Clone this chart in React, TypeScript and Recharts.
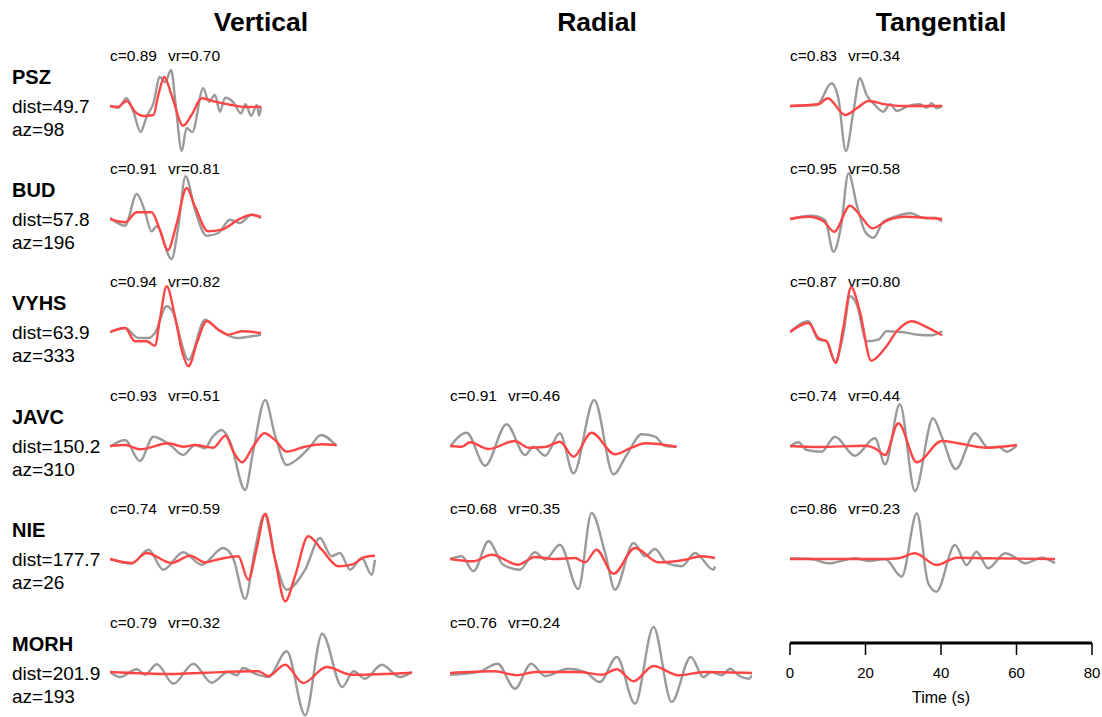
import { LineChart, Line, XAxis, YAxis } from 'recharts';

type Pt = [number, number];

const components = ['Vertical', 'Radial', 'Tangential'];
const stations = ['PSZ', 'BUD', 'VYHS', 'JAVC', 'NIE', 'MORH'];
const distances = ['49.7', '57.8', '63.9', '150.2', '177.7', '201.9'];
const azimuths = ['98', '196', '333', '310', '26', '193'];
const timeTicks = [0, 20, 40, 60, 80];

// fit quality per station (null = component not used)
const zCorr = ['0.89', '0.91', '0.94', '0.93', '0.74', '0.79'];
const zVr = ['0.70', '0.81', '0.82', '0.51', '0.59', '0.32'];
const rCorr = [null, null, null, '0.91', '0.68', '0.76'];
const rVr = [null, null, null, '0.46', '0.35', '0.24'];
const tCorr = ['0.83', '0.95', '0.87', '0.74', '0.86', null];
const tVr = ['0.34', '0.58', '0.80', '0.44', '0.23', null];

// waveforms: [time s, amplitude] read at extrema
const pszZObs: Pt[] = [[0,0],[2.2,-1.7],[4.4,7.7],[6.2,-5.7],[8.1,-26],[9.7,-10.7],[11.5,2.7],[13.2,29],[14.6,24],[16.2,36],[17.4,1],[19,-45],[20.3,-22],[21.8,-26],[24.7,17.7],[26.2,4.3],[27.8,11],[29.1,-5.7],[30.5,8.3],[32.7,3.7],[34.7,-7.3],[35.9,1.7],[37.4,-9.7],[38.9,1],[39.5,-9.7],[40,-0.7]];
const pszZSyn: Pt[] = [[0,0],[2,-1],[4.4,5],[6.6,-5.7],[8.8,-10],[11.5,-9],[12.8,11],[14.4,29],[16.3,11],[19.4,-19.7],[21.6,-9],[24.3,7.7],[27.8,4.3],[32.2,1],[35.8,-1],[40,-0.7]];
const budZObs: Pt[] = [[0,1],[4,-6.7],[7.1,25],[9.1,9.3],[11,-12.3],[12.4,-7.3],[16.3,-40],[18.1,-7.3],[20,42.7],[22.5,9.3],[25.6,-16.7],[28.7,-14],[31.8,-0.7],[34.4,-4],[37.5,4.3],[40,1]];
const budZSyn: Pt[] = [[0,0],[4,-3.3],[7.1,6.7],[11,6.7],[13.2,-10.7],[15.3,-31.3],[17.7,-4],[20.3,31],[22.5,12.7],[26,-12.3],[29.6,-10.7],[34,-0.7],[37.5,4.3],[40,2]];
const vyhsZObs: Pt[] = [[0,0],[4,4],[7.5,-6],[10.2,-6],[11.9,-1],[15,25.7],[16.3,22.3],[20.8,-27.7],[25.2,12.3],[28.7,2.3],[33.6,-6],[37.5,-4.3],[40,-2.7]];
const vyhsZSyn: Pt[] = [[0,0],[4,4],[6.6,-9.3],[9.7,-9.3],[11.9,-13.7],[13.2,12.3],[15,45.7],[17.2,15.7],[19.2,-21],[20.8,-34.3],[23,-11],[25.6,10.7],[28.7,2.3],[31.3,-2.7],[34.9,0.7],[40,-1]];
const javcZObs: Pt[] = [[0,-0.7],[4,6],[7.9,-15],[11.5,9.3],[15.9,1],[19.4,-9],[22.5,1],[25.2,-2.3],[26.9,7.7],[29.6,16],[31.8,4.3],[35.8,-44],[37.9,-5.7],[41.1,46],[43.7,11],[46.8,-19],[49.9,-12.3],[53,-0.7],[55.9,11],[60,0]];
const javcZSyn: Pt[] = [[0,0],[4,1],[7.9,-3.3],[15.5,2.7],[19.4,-0.7],[22.5,1],[27.4,-1.7],[30.6,10.3],[32.7,-5.7],[35,-16.3],[37.9,-0.7],[40.9,12.7],[43.7,6],[46.8,-5.7],[51.7,-0.7],[56.1,1.7],[60,1]];
const nieZObs: Pt[] = [[0,0],[5.7,-4.7],[10.2,9.3],[14.1,-10.7],[19.4,6.7],[24.3,-5.7],[30,11],[32.7,0],[35.8,-40],[38.4,9.3],[40.9,44.3],[43.7,0],[46.8,-30.7],[51.7,-10.7],[55.6,21],[58.7,2.7],[60.9,6],[63.6,-10.7],[66.7,1],[69.3,-15.7],[70.2,-0.7]];
const nieZSyn: Pt[] = [[0,0],[5.7,-4],[9.7,6],[16.3,-4],[21.2,3.3],[25.2,-3.3],[29.1,0],[34,2.7],[36.6,-20.7],[38.8,9.3],[41.1,45.3],[43.7,0],[46.4,-42.3],[49,-17.3],[52.5,22.7],[56.1,9.3],[60.5,-7.3],[64,-5.7],[67.5,2],[70.2,3.3]];
const morhZObs: Pt[] = [[0,1],[2.6,-4],[7.1,3.7],[9.3,-1.7],[12.4,8.7],[16.8,-10.7],[22.1,9.3],[26.9,-9.7],[31.3,1],[33.6,-2.3],[35.3,5],[38.4,-0.7],[41.9,-4],[46.8,21.7],[51.7,-42.3],[56.2,39.3],[61.5,-14],[64.5,1.7],[67.5,-5.7],[72,8.3],[76.8,-4],[80,1]];
const morhZSyn: Pt[] = [[0,1],[16.3,-1],[25.2,0.3],[39.3,1.7],[41.9,-3],[46.4,8.3],[51.2,-10],[57.4,6],[64,-1.7],[80,0.3]];

const javcRObs: Pt[] = [[0,-0.7],[4.4,13.3],[9.3,-19.7],[15,21.7],[19.9,-9],[22.1,-0.7],[25.2,-9.7],[29.1,12.7],[32.7,-27.3],[38.2,46],[43.3,-28.3],[46.8,-9],[50.8,11.7],[54.3,9.3],[57,0],[60,-0.7]];
const javcRSyn: Pt[] = [[0,0],[3.1,-0.7],[5.3,3.7],[10.2,-3],[17.2,5],[20.8,-1.7],[25.2,-1],[29.1,4.3],[32.7,-10.7],[37.5,13.3],[43.7,-8.3],[48.1,-1.7],[51.7,2.7],[60,-0.7]];
const nieRObs: Pt[] = [[0,0],[3.1,2.7],[6.2,-12.3],[10.2,17.7],[14.1,-5.7],[18.5,-10.7],[22.5,6.7],[25.2,-0.7],[29.1,14.3],[34,-30],[37.5,46],[41.1,6],[43.7,-30.7],[48.6,16],[51.7,2.7],[54.3,10],[57.4,-4],[61.4,-7.3],[64.9,6],[69.8,-10.7],[70.2,-7.3]];
const nieRSyn: Pt[] = [[0,0],[6.2,-2.3],[11,4.3],[18.1,-5.7],[22.5,2],[27.8,0],[33.1,1],[35.8,-3.3],[38.8,9.3],[43.3,-14.7],[49,11],[55.2,-3.3],[62.3,-0.7],[66.7,2.7],[70.2,1]];
const morhRObs: Pt[] = [[0,-1.7],[7.5,1],[12.6,9.3],[17.2,-15.7],[21.5,9.3],[25.2,-3],[31.3,4.3],[35.8,1],[39.7,-9],[44.2,16],[49,-30.7],[53.9,46],[58.7,-29],[63.8,16],[67.1,-4],[69.3,1],[72,-2.3],[74.2,4.3],[76.4,-2.3],[79.2,-5.7],[80,-2.3]];
const morhRSyn: Pt[] = [[0,0],[11.9,1.7],[17.7,-2.3],[22.5,1],[34,1],[40.2,-1.7],[44.2,3.7],[48.6,-8.3],[53.9,7],[60.5,-2.3],[67.5,1],[80,0]];

const pszTObs: Pt[] = [[0,0],[7.1,1],[11,22.7],[12.8,7.7],[14.8,-45],[16.8,-5.7],[18.5,27.7],[20.3,11],[22.5,1],[24.7,-5.7],[26.5,1.7],[28.3,-5],[30.9,-0.7],[34.4,1.7],[36.2,-1.7],[37.5,2.7],[38.9,-2.3],[40.3,0]];
const pszTSyn: Pt[] = [[0,0],[7.5,1.7],[10,7.7],[14.6,-9],[17.7,-2.3],[20.8,5],[25.2,1.7],[29.6,0],[40.3,0]];
const budTObs: Pt[] = [[0,0],[5.7,3.3],[9.3,-1],[11.5,-32.7],[13.5,-7.7],[15.5,45.7],[17.7,14],[19.9,-12.7],[22.1,-18.7],[24.7,-2.7],[27.8,2.3],[31.8,5.7],[35.8,0.7],[38.4,1.3],[40.3,-2.7]];
const budTSyn: Pt[] = [[0,0],[4.9,2.3],[8.8,-2],[11.7,-12.7],[15.9,13.3],[18.5,4],[21.8,-9.3],[26,-1],[30.5,2.3],[35.8,1.3],[40.3,0]];
const vyhsTObs: Pt[] = [[0,0],[4.9,10.7],[7.5,-7.7],[9.7,-9.3],[11.9,-29.3],[14.1,-2.7],[15.9,35.7],[17.7,27.3],[20.3,-9.3],[23.4,-7.7],[25.6,0.7],[29.6,0],[34,-2.7],[37.5,-3.3],[40.3,0.7]];
const vyhsTSyn: Pt[] = [[0,0],[4.9,9],[7.5,-6],[9.7,-9.3],[12.1,-31],[14.1,4],[16.2,44.7],[18.5,20.7],[21.5,-28.7],[25.2,-16],[28.3,0.7],[32.2,10.7],[35.8,5.7],[40.3,-3.3]];
const javcTObs: Pt[] = [[0,-0.7],[2.2,3.7],[4.4,-4],[8.4,-5.7],[11.9,9.3],[17.2,-9.7],[22.5,7.7],[25.2,-18.3],[29.1,41.7],[33.1,-45],[37.9,27.7],[40.2,9.3],[43.9,-23],[49,12.7],[52.5,-1.7],[55.2,-0.7],[57.4,-5.7],[60.1,0.3]];
const javcTSyn: Pt[] = [[0,0],[7.5,-1],[19.9,0.3],[22.5,-2.3],[25.2,-9],[28.7,22.7],[33.6,-16.3],[40.2,5],[44.6,2.7],[51.7,-1.7],[60.1,1]];
const nieTObs: Pt[] = [[0,0.7],[5.7,0],[10.2,-4.3],[17.2,0.7],[20.7,-2],[25.2,0],[29.6,-17.7],[33.6,45.7],[36.6,-24.3],[38.8,-32.7],[43.7,14],[46.8,-6],[49.4,7.3],[52.5,-9.3],[57,5.7],[60,0.7],[62.3,-4.3],[66.7,1.3],[70.2,-4.3]];
const nieTSyn: Pt[] = [[0,0],[25.2,0],[28.7,0.7],[33.1,5.7],[38.8,-6],[44.2,1.3],[51.7,0.7],[70.2,0]];

// station x component -> [observed, synthetic]
const traces: ([Pt[], Pt[]] | null)[][] = [
  [[pszZObs, pszZSyn], null, [pszTObs, pszTSyn]],
  [[budZObs, budZSyn], null, [budTObs, budTSyn]],
  [[vyhsZObs, vyhsZSyn], null, [vyhsTObs, vyhsTSyn]],
  [[javcZObs, javcZSyn], [javcRObs, javcRSyn], [javcTObs, javcTSyn]],
  [[nieZObs, nieZSyn], [nieRObs, nieRSyn], [nieTObs, nieTSyn]],
  [[morhZObs, morhZSyn], [morhRObs, morhRSyn], null],
];
const corr = [zCorr, rCorr, tCorr];
const vr = [zVr, rVr, tVr];

const COL_X = [110, 450, 790];
const ROW_Y = [106, 219, 332, 446, 559, 673];
const TITLE_X = [261, 597, 941];
const PW = 302; // 80 s
const HALF = 55;
const FONT = '"Liberation Sans", Arial, Helvetica, sans-serif';

const rows = (pts: Pt[]) => pts.map(([t, a]) => ({ t, a }));

function Label({ x, y, size, bold, center, children }: any) {
  return (
    <div
      style={{
        position: 'absolute',
        left: x,
        top: y,
        fontSize: size,
        lineHeight: 1,
        fontWeight: bold ? 'bold' : 'normal',
        transform: center ? 'translate(-50%, -50%)' : 'translateY(-50%)',
        whiteSpace: 'pre',
        color: '#000',
      }}
    >
      {children}
    </div>
  );
}

function Panel({ obs, syn, left, base }: { obs: Pt[]; syn: Pt[]; left: number; base: number }) {
  return (
    <div style={{ position: 'absolute', left, top: base - HALF }}>
      <LineChart width={PW} height={HALF * 2} margin={{ top: 0, right: 0, bottom: 0, left: 0 }}>
        <XAxis type="number" dataKey="t" domain={[0, 80]} allowDataOverflow hide />
        <YAxis type="number" domain={[-HALF, HALF]} allowDataOverflow hide />
        <Line data={rows(obs)} dataKey="a" type="monotone" stroke="#9a9a9a" strokeWidth={2.4} dot={false} isAnimationActive={false} />
        <Line data={rows(syn)} dataKey="a" type="monotone" stroke="#ff4545" strokeWidth={2.4} dot={false} isAnimationActive={false} />
      </LineChart>
    </div>
  );
}

export default function App() {
  return (
    <div style={{ position: 'absolute', left: 0, top: 0, width: 1102, height: 717, background: '#fff', fontFamily: FONT, overflow: 'hidden' }}>
      {components.map((c, i) => (
        <Label key={c} x={TITLE_X[i]} y={22} size={26.5} bold center>{c}</Label>
      ))}

      {stations.map((s, r) => (
        <div key={s}>
          <Label x={12} y={ROW_Y[r] - 29} size={20} bold>{s}</Label>
          <Label x={12} y={ROW_Y[r]} size={19}>{'dist=' + distances[r]}</Label>
          <Label x={12} y={ROW_Y[r] + 23} size={19}>{'az=' + azimuths[r]}</Label>
          {traces[r].map((tr, c) =>
            tr ? (
              <div key={c}>
                <Label x={COL_X[c]} y={ROW_Y[r] - 50} size={15.5}>
                  {'c=' + corr[c][r]}
                  <span style={{ marginLeft: 11 }}>{'vr=' + vr[c][r]}</span>
                </Label>
                <Panel obs={tr[0]} syn={tr[1]} left={COL_X[c]} base={ROW_Y[r]} />
              </div>
            ) : null
          )}
        </div>
      ))}

      <div style={{ position: 'absolute', left: 790 - 20, top: 603 }}>
        <LineChart width={PW + 40} height={112} data={timeTicks.map((t) => ({ t }))} margin={{ top: 0, right: 20, bottom: 0, left: 20 }}>
          <XAxis
            type="number"
            dataKey="t"
            domain={[0, 80]}
            ticks={timeTicks}
            height={72}
            axisLine={{ stroke: '#000', strokeWidth: 3 }}
            tickLine={{ stroke: '#000', strokeWidth: 1.5 }}
            tickSize={12}
            tickMargin={12}
            tick={{ fill: '#000', fontSize: 15, fontFamily: FONT }}
            label={{ value: 'Time (s)', position: 'insideBottom', offset: 12, fill: '#000', fontSize: 16, fontFamily: FONT }}
          />
          <YAxis hide />
        </LineChart>
      </div>
    </div>
  );
}
